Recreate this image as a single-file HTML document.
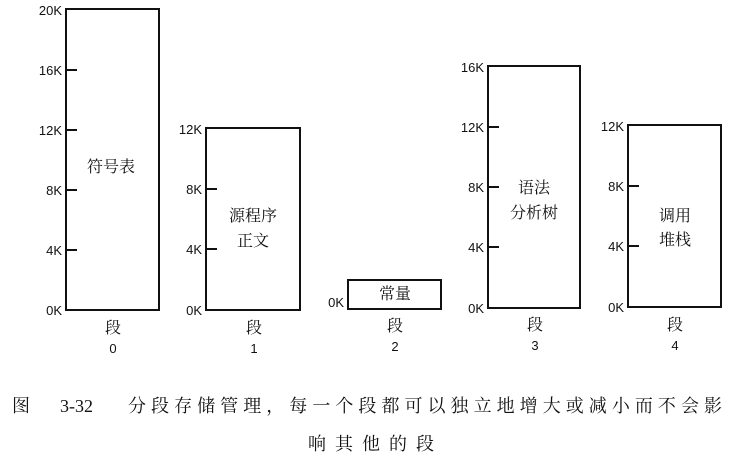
<!DOCTYPE html>
<html><head><meta charset="utf-8"><style>
html,body{margin:0;padding:0;background:#fff;}
svg{display:block;}
text{font-family:"Liberation Sans","Noto Sans CJK SC",sans-serif;fill:#111;}
.cj{font-family:"Noto Serif CJK SC","Noto Sans CJK SC",serif;}
</style></head><body>
<svg width="734" height="462" viewBox="0 0 734 462" xmlns="http://www.w3.org/2000/svg">
<g fill="none" stroke="#111" stroke-width="2">
<rect x="66" y="9" width="93" height="301"/>
<rect x="206" y="128" width="94" height="182"/>
<rect x="348" y="280" width="93" height="29"/>
<rect x="488" y="66" width="92" height="242"/>
<rect x="628" y="125" width="93" height="182"/>
<path d="M66 70h11M66 130h11M66 190h11M66 250h11M206 189h11M206 249h11M488 127h11M488 187h11M488 247h11M628 186h11M628 246h11"/>
</g>
<g font-size="13" text-anchor="end">
<text x="62" y="15">20K</text><text x="62" y="75">16K</text><text x="62" y="135">12K</text>
<text x="62" y="195">8K</text><text x="62" y="255">4K</text><text x="62" y="315">0K</text>
<text x="202" y="134">12K</text><text x="202" y="194">8K</text><text x="202" y="254">4K</text><text x="202" y="315">0K</text>
<text x="344" y="307">0K</text>
<text x="484" y="72">16K</text><text x="484" y="132">12K</text><text x="484" y="192">8K</text><text x="484" y="252">4K</text><text x="484" y="313">0K</text>
<text x="624" y="131">12K</text><text x="624" y="191">8K</text><text x="624" y="251">4K</text><text x="624" y="312">0K</text>
</g>
<g font-size="16" text-anchor="middle">
<text class="cj" x="111" y="172">符号表</text>
<text class="cj" x="253" y="221">源程序</text><text class="cj" x="253" y="246">正文</text>
<text class="cj" x="395" y="299">常量</text>
<text class="cj" x="534" y="193">语法</text><text class="cj" x="534" y="218">分析树</text>
<text class="cj" x="675" y="221">调用</text><text class="cj" x="675" y="245">堆栈</text>
<text class="cj" x="113" y="333">段</text><text class="cj" x="254" y="333">段</text><text class="cj" x="395" y="331">段</text><text class="cj" x="535" y="330">段</text><text class="cj" x="675" y="330">段</text>
</g>
<g font-size="13" text-anchor="middle">
<text x="113" y="353">0</text><text x="254" y="353">1</text><text x="395" y="351">2</text><text x="535" y="350">3</text><text x="675" y="350">4</text>
</g>
<g font-size="18">
<text class="cj" x="12" y="412">图</text>
<text x="60" y="412" style="font-family:'Liberation Serif',serif">3-32</text>
<text class="cj" x="128" y="412" textLength="594" lengthAdjust="spacing">分段存储管理，每一个段都可以独立地增大或减小而不会影</text>
<text class="cj" x="308" y="450" textLength="126" lengthAdjust="spacing">响其他的段</text>
</g>
</svg>
</body></html>
